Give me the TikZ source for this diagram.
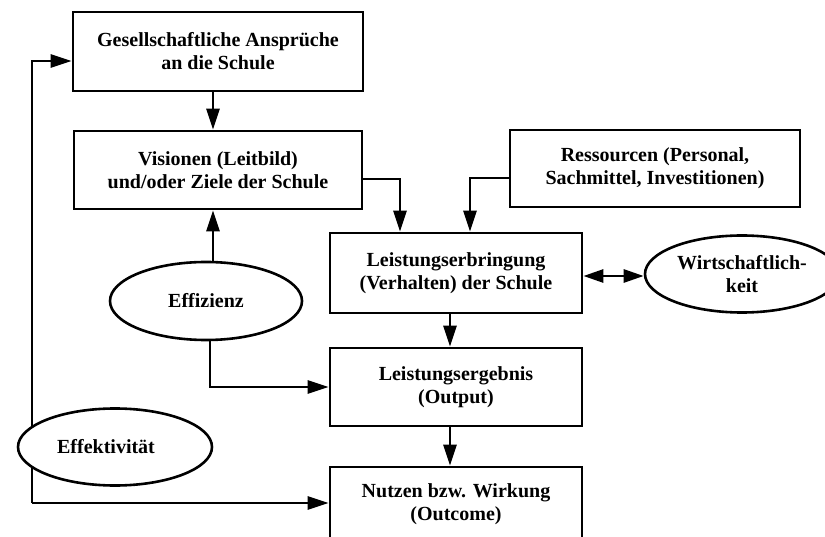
\documentclass[tikz,border=0pt]{standalone}
\usepackage{fontspec}
\setmainfont{Liberation Serif}
\usetikzlibrary{arrows.meta,shapes.geometric}
\begin{document}
\begin{tikzpicture}[x=1pt,y=-1pt,
  every node/.style={font=\fontsize{20}{23}\selectfont\bfseries, align=center, inner sep=0pt},
  box/.style={draw, line width=2.8pt, fill=white, rectangle},
  oval/.style={draw, line width=2.6pt, fill=white, ellipse},
  arr/.style={line width=2.8pt, -{Triangle[length=21pt,width=13pt]}},
  darr/.style={line width=2.8pt, {Triangle[length=20pt,width=13pt]}-{Triangle[length=20pt,width=13pt]}}
]
\useasboundingbox (0,0) rectangle (825,537);

\node[box, minimum width=290pt, minimum height=79pt] (g) at (218,51.5) {Gesellschaftliche Ansprüche\\an die Schule};
\node[box, minimum width=288pt, minimum height=78pt] (v) at (218,170) {Visionen (Leitbild)\\und/oder Ziele der Schule};
\node[box, minimum width=290pt, minimum height=77pt] (r) at (655,168.5) {Ressourcen (Personal,\\Sachmittel, Investitionen)};
\node[box, minimum width=252pt, minimum height=80pt] (l) at (456,273) {Leistungserbringung\\(Verhalten) der Schule};
\node[box, minimum width=252pt, minimum height=78pt] (o) at (456,387) {Leistungsergebnis\\(Output)};
\node[box, minimum width=252pt, minimum height=74pt] (n) at (456,504) {Nutzen bzw. Wirkung\\(Outcome)};
\node[oval, minimum width=192pt, minimum height=78pt] (eff) at (206,301) {Effizienz};
\node[oval, minimum width=194pt, minimum height=77pt] (w) at (742,274) {Wirtschaftlich-\\keit};

% connectors
\draw[arr] ([xshift=-5pt]g.south) -- ([xshift=-5pt]v.north);
\draw[arr] ([yshift=-9pt]v.east) -| ([xshift=-56pt]l.north);
\draw[arr] ([yshift=-9.5pt]r.west) -| ([xshift=14pt]l.north);
\draw[arr] (eff.north -| 213,0) -- (v.south -| 213,0);
\draw[arr] (eff.south -| 210,0) |- (o.west);
\draw[darr] ([yshift=-3pt]l.east) -- ([yshift=-3pt]l.east -| w.west);
\draw[arr] ([xshift=-6pt]l.south) -- ([xshift=-6pt]o.north);
\draw[arr] ([xshift=-6pt]o.south) -- ([xshift=-6pt]n.north);

\coordinate (fb) at (32,503);
\draw[arr] (fb) |- ([yshift=-9.5pt]g.west);
\draw[arr] (fb) -- (fb -| n.west);

\node[oval, minimum width=194pt, minimum height=77pt] (ekt) at (115,447) {\hspace*{-18pt}Effektivität};
\end{tikzpicture}
\end{document}
